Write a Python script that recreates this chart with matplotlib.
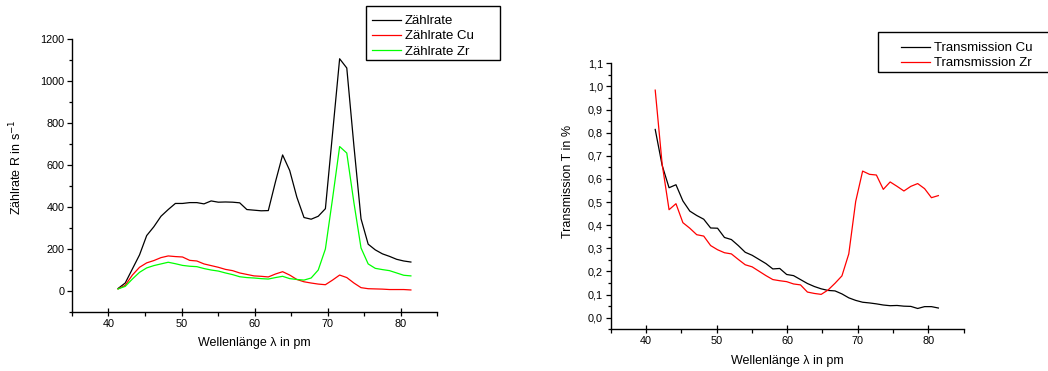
import numpy as np
import matplotlib
matplotlib.use("Agg")
import matplotlib.pyplot as plt
from matplotlib.ticker import MultipleLocator, FuncFormatter
from matplotlib.patches import Rectangle

plt.rcParams['font.family'] = ['Liberation Sans', 'DejaVu Sans']

# wavelength in pm
wl = [41.31, 42.29, 43.27, 44.25, 45.23, 46.21, 47.19, 48.18, 49.16, 50.14,
      51.12, 52.10, 53.08, 54.06, 55.04, 56.02, 57.00, 57.97, 58.95, 59.93,
      60.91, 61.89, 62.87, 63.85, 64.82, 65.80, 66.78, 67.76, 68.73, 69.71,
      70.69, 71.66, 72.64, 73.62, 74.59, 75.57, 76.54, 77.52, 78.49, 79.47,
      80.44, 81.42]

# count rates in 1/s
rate = [12, 38, 105, 172, 264, 306, 356, 388, 417, 417,
        421, 421, 415, 429, 423, 424, 423, 420, 388, 385,
        382, 383, 520, 648, 574, 447, 350, 342, 356, 392,
        750, 1106, 1062, 690, 344, 223, 196, 177, 165, 151,
        143, 138]
rate_cu = [10, 27, 76, 113, 134, 145, 159, 167, 164, 162,
           146, 143, 129, 121, 113, 103, 97, 86, 79, 72,
           70, 67, 81, 92, 76, 55, 44, 38, 33, 30,
           52, 76, 64, 38, 16, 11, 10, 9, 7, 7,
           7, 5]
rate_zr = [10, 22, 57, 89, 110, 121, 129, 137, 130, 122,
           118, 116, 107, 100, 95, 86, 78, 68, 64, 62,
           59, 57, 64, 70, 59, 55, 52, 62, 100, 200,
           440, 688, 657, 420, 205, 129, 108, 102, 97, 86,
           75, 72]

# transmission
trans_cu = [0.814, 0.659, 0.562, 0.575, 0.505, 0.461, 0.442, 0.426, 0.388, 0.387,
            0.347, 0.338, 0.312, 0.283, 0.270, 0.252, 0.234, 0.211, 0.213, 0.187,
            0.182, 0.165, 0.148, 0.135, 0.125, 0.118, 0.116, 0.103, 0.086, 0.075,
            0.067, 0.064, 0.060, 0.055, 0.052, 0.053, 0.050, 0.049, 0.040, 0.048,
            0.048, 0.042]
trans_zr = [0.984, 0.665, 0.467, 0.493, 0.411, 0.387, 0.359, 0.353, 0.312, 0.294,
            0.281, 0.276, 0.252, 0.229, 0.220, 0.201, 0.182, 0.165, 0.160, 0.156,
            0.146, 0.142, 0.111, 0.105, 0.101, 0.120, 0.149, 0.181, 0.276, 0.503,
            0.634, 0.620, 0.617, 0.555, 0.587, 0.568, 0.548, 0.568, 0.580, 0.558,
            0.519, 0.528]

W, H = 1048, 371
fig = plt.figure(figsize=(W / 100, H / 100), dpi=100)
ax1 = fig.add_axes([0.0687, 0.159, 0.3483, 0.7358])
ax2 = fig.add_axes([0.5827, 0.1124, 0.3368, 0.717])

lw = 0.9
ax1.plot(wl, rate, color='black', lw=lw, label='Zählrate')
ax1.plot(wl, rate_cu, color='#ff0000', lw=lw, label='Zählrate Cu')
ax1.plot(wl, rate_zr, color='#00ff00', lw=lw, label='Zählrate Zr')

ax2.plot(wl, trans_cu, color='black', lw=lw, label='Transmission Cu')
ax2.plot(wl, trans_zr, color='#ff0000', lw=lw, label='Tramsmission Zr')

for ax in (ax1, ax2):
    ax.set_xlim(35, 85)
    ax.spines['top'].set_visible(False)
    ax.spines['right'].set_visible(False)
    ax.spines['left'].set_linewidth(1.0)
    ax.spines['bottom'].set_linewidth(1.0)
    ax.xaxis.set_major_locator(MultipleLocator(10))
    ax.xaxis.set_minor_locator(MultipleLocator(5))
    ax.tick_params(axis='x', which='major', direction='inout', length=6, width=0.9,
                   labelsize=7.8, pad=2)
    ax.tick_params(axis='x', which='minor', direction='out', length=3, width=0.9)
    ax.tick_params(axis='y', which='major', direction='out', length=3.5, width=0.9,
                   labelsize=7.8, pad=2)
    ax.tick_params(axis='y', which='minor', direction='out', length=2, width=0.9)
    ax.set_xlabel('Wellenlänge λ in pm', fontsize=9, labelpad=6)

ax1.set_ylim(-100, 1200)
ax1.yaxis.set_major_locator(MultipleLocator(200))
ax1.yaxis.set_minor_locator(MultipleLocator(100))
ax1.set_ylabel('Zählrate R in s$^{-1}$', fontsize=9)
ax1.yaxis.set_label_coords(-0.13, 0.53)

ax2.set_ylim(-0.05, 1.1)
ax2.yaxis.set_major_locator(MultipleLocator(0.1))
ax2.yaxis.set_minor_locator(MultipleLocator(0.05))
ax2.yaxis.set_major_formatter(FuncFormatter(lambda v, p: f"{v:.1f}".replace('.', ',')))
ax2.set_ylabel('Transmission T in %', fontsize=9)
ax2.yaxis.set_label_coords(-0.104, 0.555)

leg_kw = dict(bbox_transform=fig.transFigure, fontsize=9.5, frameon=False,
              handlelength=2.2, handletextpad=0.3, labelspacing=0.23,
              borderpad=0.3, borderaxespad=0, loc='upper left')
ax1.legend(bbox_to_anchor=(368 / W, 1 - 11 / H), **leg_kw)
ax2.legend(bbox_to_anchor=(897 / W, 1 - 38 / H), **leg_kw)

# legend frames
fig.patches.append(Rectangle((365.7 / W, 1 - 60.3 / H), 134.3 / W, 54.3 / H,
                             transform=fig.transFigure, fill=False,
                             edgecolor='black', lw=1.0))
fig.patches.append(Rectangle((877.7 / W, 1 - 71.7 / H), 0.2, 39.4 / H,
                             transform=fig.transFigure, fill=False,
                             edgecolor='black', lw=1.0))

plt.savefig("out.png", dpi=100)
